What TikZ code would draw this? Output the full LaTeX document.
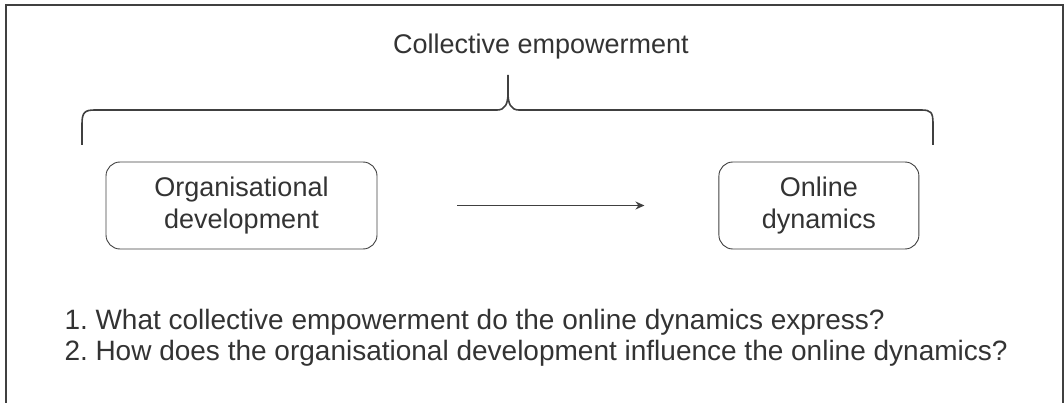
\documentclass[tikz,border=0pt]{standalone}
\usepackage{fontspec}
\setmainfont{Liberation Sans}
\usepackage{tikz}
\usetikzlibrary{positioning,arrows.meta}

\definecolor{inkgray}{HTML}{333333}
\definecolor{linegray}{HTML}{404040}

\tikzset{
	txt/.style={text=inkgray, font=\fontsize{27}{31.5}\selectfont},
	stage/.style={txt, draw=linegray, line width=0.9pt, rounded corners=14pt,
		minimum height=87pt, align=center, inner sep=0pt},
	flow/.style={draw=linegray, line width=1.6pt, -{Stealth[length=9pt,width=8pt]}}
}

\begin{document}
\begin{tikzpicture}[x=1pt, y=-1pt]
	\useasboundingbox (0,0) rectangle (1064,403);
	
	% open frame
	\draw[linegray, line width=1.8pt] (6,403) -- (6,5) -- (1063,5) -- (1063,403);
	
	\node[txt, anchor=base](title) at (541,54){Collective empowerment};
	
	\node[stage, minimum width=271pt](orgdev) at (241.5,205.5){Organisational\\development};
	\node[stage, minimum width=200pt, right=341pt of orgdev](online){Online\\dynamics};
	
	\draw[flow, shorten <=80pt, shorten >=74pt] (orgdev.east) -- (online.west);
	
	% brace
	\coordinate (braceL) at (82,145);
	\coordinate (braceR) at (933,145);
	\coordinate (braceTip) at (508,75);
	\draw[linegray, line width=1.6pt]
		(braceL) -- (82,124) .. controls (82,112) and (85,110) .. (95,110)
		-- (497,110) .. controls (505,110) and (508,104) .. (508,93) -- (braceTip);
	\draw[linegray, line width=1.6pt]
		(508,93) .. controls (508,104) and (511,110) .. (519,110)
		-- (921,110) .. controls (931,110) and (933,112) .. (933,124) -- (braceR);
	
	\node[txt, anchor=base west, align=left, font=\fontsize{28}{31}\selectfont](questions) at (61,360)
		{\makebox[31pt][l]{1.}What collective empowerment do the online dynamics express?\\
		 \makebox[31pt][l]{2.}How does the organisational development influence the online dynamics?};
\end{tikzpicture}
\end{document}
